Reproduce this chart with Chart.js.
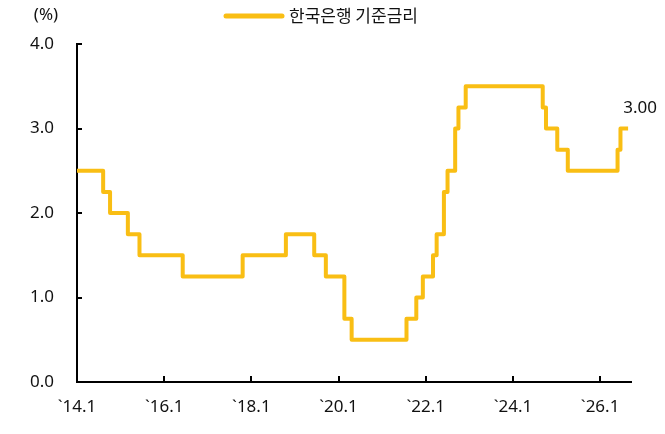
<!DOCTYPE html>
<html>
<head>
<meta charset="utf-8">
<script src="https://cdn.jsdelivr.net/npm/chart.js@4"></script>
<style>
  html, body { margin: 0; padding: 0; background: #fff; }
  #wrap { width: 665px; height: 434px; }
</style>
</head>
<body>
<div id="wrap"><canvas id="myChart" width="665" height="434"></canvas></div>
<script>
// months counted from Jan 2014 (0 = `14.1)
const changeMonths = [0, 7.2, 9.1, 14.0, 17.2, 29.1, 45.6, 57.5, 65.3, 68.5, 73.6, 75.6,
  90.7, 93.4, 95.2, 98.0, 99.0, 101.0, 102.0, 104.1, 105.0, 107.0,
  128.2, 129.1, 132.2, 135.1, 148.8, 149.6, 151.7]
const rates = [2.50, 2.25, 2.00, 1.75, 1.50, 1.25, 1.50, 1.75, 1.50, 1.25, 0.75, 0.50,
  0.75, 1.00, 1.25, 1.50, 1.75, 2.25, 2.50, 3.00, 3.25, 3.50,
  3.25, 3.00, 2.75, 2.50, 2.75, 3.00, 3.00]
const tickMonths = [0, 24, 48, 72, 96, 120, 144]
const tickLabels = ['`14.1', '`16.1', '`18.1', '`20.1', '`22.1', '`24.1', '`26.1']
const yTicks = [0, 1, 2, 3, 4]
const seriesName = '한국은행 기준금리'

const lineColor = '#F9BE14'
const fontFam = "'Noto Sans', 'Noto Sans CJK KR', sans-serif"

let pontos = changeMonths.map((m, i) => ({ x: m, y: rates[i] }))

// inner tick marks, legend, unit and end label
const extras = {
  id: 'extras',
  afterDraw(chart) {
    let ctx = chart.ctx
    let xs = chart.scales.x
    let ys = chart.scales.y
    let area = chart.chartArea
    ctx.save()
    ctx.strokeStyle = '#000'
    ctx.lineWidth = 2
    tickMonths.forEach((m) => {
      if (m === 0) return
      let px = Math.round(xs.getPixelForValue(m))
      ctx.beginPath()
      ctx.moveTo(px, area.bottom)
      ctx.lineTo(px, area.bottom - 6)
      ctx.stroke()
    })
    yTicks.forEach((v) => {
      if (v === 0) return
      let py = Math.round(ys.getPixelForValue(v))
      ctx.beginPath()
      ctx.moveTo(area.left, py)
      ctx.lineTo(area.left + 5, py)
      ctx.stroke()
    })

    ctx.fillStyle = '#111'
    ctx.font = '17px ' + fontFam
    ctx.textBaseline = 'middle'
    ctx.textAlign = 'center'
    ctx.fillText('(%)', 46, 15)

    // legend
    ctx.strokeStyle = lineColor
    ctx.lineWidth = 5
    ctx.lineCap = 'round'
    ctx.beginPath()
    ctx.moveTo(226, 16)
    ctx.lineTo(282, 16)
    ctx.stroke()
    ctx.textAlign = 'left'
    ctx.font = "17px 'Noto Sans CJK KR', sans-serif"
    ctx.fillText(seriesName, 289, 16)

    // end value
    let last = pontos.length - 1
    let lx = xs.getPixelForValue(pontos[last].x)
    let ly = ys.getPixelForValue(pontos[last].y)
    ctx.font = '17px ' + fontFam
    ctx.textAlign = 'center'
    ctx.fillText(rates[last].toFixed(2), lx + 12, ly - 20)
    ctx.restore()
  }
}

var ctx = document.getElementById('myChart').getContext('2d')
var myChart = new Chart(ctx, {
  type: 'line',
  data: {
    datasets: [{
      label: seriesName,
      data: pontos,
      borderColor: lineColor,
      borderWidth: 4,
      stepped: 'before',
      pointRadius: 0,
      fill: false,
      borderJoinStyle: 'round'
    }]
  },
  options: {
    responsive: false,
    animation: false,
    layout: { padding: { top: 44, right: 34, left: 0, bottom: 0 } },
    plugins: {
      legend: { display: false },
      tooltip: { enabled: false }
    },
    scales: {
      x: {
        type: 'linear',
        min: 0,
        max: 152.5,
        afterFit: (scale) => { scale.height = 52 },
        afterBuildTicks: (scale) => { scale.ticks = tickMonths.map(v => ({ value: v })) },
        grid: { drawOnChartArea: false, drawTicks: false },
        border: { display: true, color: '#000', width: 2 },
        ticks: {
          autoSkip: false,
          maxRotation: 0,
          padding: 15,
          color: '#111',
          font: { size: 17, family: fontFam },
          callback: (v) => tickLabels[tickMonths.indexOf(v)]
        }
      },
      y: {
        min: 0,
        max: 4,
        afterFit: (scale) => { scale.width = 77 },
        afterBuildTicks: (scale) => { scale.ticks = yTicks.map(v => ({ value: v })) },
        grid: { drawOnChartArea: false, drawTicks: false },
        border: { display: true, color: '#000', width: 2 },
        ticks: {
          padding: 23,
          color: '#111',
          font: { size: 17, family: fontFam },
          callback: (v) => v.toFixed(1)
        }
      }
    }
  },
  plugins: [extras]
})
</script>
</body>
</html>
